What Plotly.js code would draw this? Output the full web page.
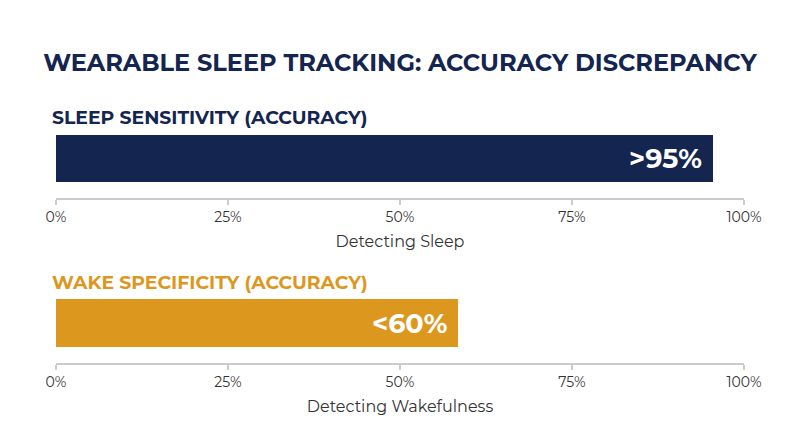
<!DOCTYPE html>
<html>
<head>
<meta charset="utf-8">
<script src="https://cdn.plot.ly/plotly-3.0.1.min.js"></script>
<style>
  html, body { margin: 0; padding: 0; background: #fff; }
  #chart { width: 800px; height: 447px; }
</style>
</head>
<body>
<div id="chart"></div>
<script>
var metrics = ["Detecting Sleep", "Detecting Wakefulness"];
var panelTitles = ["SLEEP SENSITIVITY (ACCURACY)", "WAKE SPECIFICITY (ACCURACY)"];
var accuracy = [95.5, 58.5];
var barLabels = [">95%", "<60%"];
var barColors = ["#14254f", "#dc971f"];
var tickVals = [0, 25, 50, 75, 100];
var tickText = ["0%", "25%", "50%", "75%", "100%"];

var navy = "#14254f";
var gridGray = "#cccccc";
var font = "Montserrat, 'Open Sans', sans-serif";

var traces = [];
for (var i = 0; i < metrics.length; i++) {
    traces.push({
        type: "bar",
        orientation: "h",
        x: [accuracy[i]],
        y: [metrics[i]],
        xaxis: i == 0 ? "x" : "x2",
        yaxis: i == 0 ? "y" : "y2",
        width: 1,
        marker: {color: barColors[i]},
        hoverinfo: "skip"
    });
}

function bottomAxis(anchor, title) {
    return {
        anchor: anchor,
        domain: [0, 1],
        range: [0, 100],
        fixedrange: true,
        showgrid: false,
        zeroline: false,
        showline: true,
        linecolor: gridGray,
        linewidth: 2,
        ticks: "outside",
        ticklen: 5,
        tickwidth: 2,
        tickcolor: gridGray,
        tickvals: tickVals,
        ticktext: tickText,
        ticklabelstandoff: 0,
        tickfont: {family: font, size: 14, color: "#333333"},
        title: {text: title, standoff: 11, font: {family: font, size: 16, color: "#333333"}}
    };
}

// second set of ticks pointing up, so each tick crosses the line
function upTicks(over, anchor) {
    return {
        overlaying: over,
        anchor: anchor,
        side: "bottom",
        range: [0, 100],
        fixedrange: true,
        showgrid: false,
        zeroline: false,
        showline: false,
        ticks: "inside",
        ticklen: 4,
        tickwidth: 2,
        tickcolor: gridGray,
        tickvals: tickVals,
        showticklabels: false
    };
}

function barAxis(domain, range) {
    return {
        domain: domain,
        range: range,
        type: "category",
        visible: false,
        fixedrange: true
    };
}

// value labels sit inside the bar end
var annotations = [];
for (var j = 0; j < metrics.length; j++) {
    annotations.push({
        text: barLabels[j],
        xref: j == 0 ? "x" : "x2",
        yref: j == 0 ? "y" : "y2",
        x: accuracy[j],
        y: metrics[j],
        xanchor: "right",
        yanchor: "middle",
        xshift: -9,
        showarrow: false,
        font: {family: font, size: 27, color: "#ffffff", weight: 700}
    });
}
annotations.push(
    {text: panelTitles[0], xref: "paper", yref: "paper", x: -0.008, y: 0.738,
     xanchor: "left", yanchor: "middle", showarrow: false,
     font: {family: font, size: 18.8, color: navy, weight: 700}},
    {text: panelTitles[1], xref: "paper", yref: "paper", x: -0.008, y: 0.369,
     xanchor: "left", yanchor: "middle", showarrow: false,
     font: {family: font, size: 18.8, color: barColors[1], weight: 700}}
);

var layout = {
    width: 800,
    height: 447,
    margin: {l: 56, r: 56, t: 0, b: 0},
    paper_bgcolor: "#ffffff",
    plot_bgcolor: "#ffffff",
    showlegend: false,
    bargap: 0,
    title: {
        text: "WEARABLE SLEEP TRACKING: ACCURACY DISCREPANCY",
        x: 0.5, xanchor: "center",
        y: 0.86, yanchor: "middle", yref: "container",
        font: {family: font, size: 24, color: navy, weight: 700}
    },
    xaxis: bottomAxis("y", metrics[0]),
    xaxis2: bottomAxis("y2", metrics[1]),
    xaxis3: upTicks("x", "y"),
    xaxis4: upTicks("x2", "y2"),
    yaxis: barAxis([0.557, 0.698], [-0.84, 0.5]),
    yaxis2: barAxis([0.188, 0.331], [-0.82, 0.5]),
    annotations: annotations
};

Plotly.newPlot("chart", traces, layout, {displayModeBar: false, staticPlot: true});
</script>
</body>
</html>
